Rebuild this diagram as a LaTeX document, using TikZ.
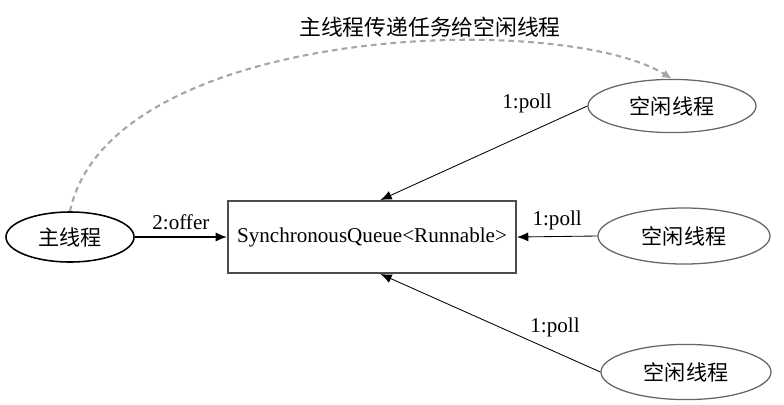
\documentclass[tikz,border=0pt]{standalone}
\usepackage{fontspec}
\setmainfont{Liberation Serif}
\newfontfamily\cjk{Noto Sans CJK SC}
\usetikzlibrary{shapes.geometric,positioning,arrows.meta}

\tikzset{
    idle/.style={draw=black!60, ellipse, line width=0.9pt,
        minimum width=4.25cm, minimum height=1.38cm},
    pollarrow/.style={-{Latex[length=8pt,width=6.5pt]}, line width=0.6pt}
}

\begin{document}
\begin{tikzpicture}[x=0.025cm,y=-0.025cm,font=\fontsize{15}{18}\selectfont]

\useasboundingbox (0,0) rectangle (784,404);

% Queue block
\node[draw=black!70,
    line width=1.4pt,
    minimum width=7.2cm,
    minimum height=1.8cm] (queue) at (372,237) {SynchronousQueue<Runnable>};

% Main thread
\node[draw,
    ellipse,
    line width=1.1pt,
    minimum width=3.2cm,
    minimum height=1.25cm] (mainthread) at (70,237) {\cjk 主线程};

% Idle threads
\node[idle, minimum width=4.2cm, minimum height=1.33cm] (idle1) at (672,106) {\cjk 空闲线程};
\node[idle, minimum width=4.3cm, minimum height=1.4cm] (idle2) at (684,236) {\cjk 空闲线程};
\node[idle] (idle3) at (686,372) {\cjk 空闲线程};

% Title
\node (title) at (430,27) {\cjk\fontsize{15.5}{18}\selectfont 主线程传递任务给空闲线程};

% Arrows
\draw[pollarrow,line width=1.1pt] (mainthread) -- (queue)
    node[midway,above=1pt]{2:offer};

\draw[pollarrow] (idle1.west) -- ([xshift=6]queue.north);
\node (poll1) at (527,103) {1:poll};

\draw[pollarrow] (idle2.west) -- (queue.east)
    node[midway,above=1pt]{1:poll};

\draw[pollarrow] (idle3.west) -- ([xshift=6]queue.south);
\node (poll3) at (555,327) {1:poll};

\draw[-{Latex[length=7pt,width=6pt]},black!35,line width=1.5pt,dash pattern=on 4pt off 3pt]
    (mainthread.north) .. controls (110,25) and (560,10) .. (idle1.north);

\end{tikzpicture}
\end{document}
